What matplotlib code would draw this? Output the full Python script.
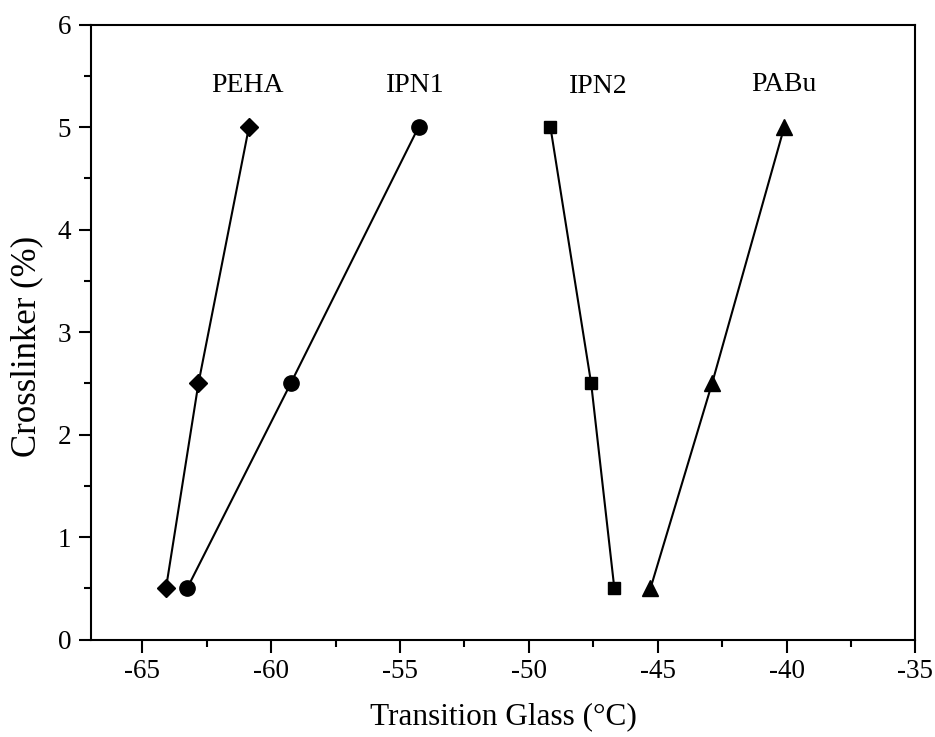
import numpy as np
import matplotlib
matplotlib.use("Agg")
import matplotlib.pyplot as plt
from matplotlib.ticker import MultipleLocator

plt.rcParams['font.family'] = ['Liberation Serif', 'DejaVu Serif']
plt.rcParams['axes.unicode_minus'] = False

# crosslinker content (%)
crosslinker = [0.5, 2.5, 5]

# glass transition temperatures (°C)
tg_peha = [-64.08, -62.82, -60.86]
tg_ipn1 = [-63.26, -59.24, -54.28]
tg_ipn2 = [-46.68, -47.58, -49.16]
tg_pabu = [-45.28, -42.89, -40.09]

series_names = ['PEHA', 'IPN1', 'IPN2', 'PABu']
label_x = [-60.9, -54.4, -47.3, -40.1]
label_y = [5.41, 5.41, 5.40, 5.42]

fig = plt.figure(figsize=(9.35, 7.37), dpi=100)
ax = fig.add_axes([0.097, 0.132, 0.882, 0.8345])

ax.plot(tg_peha, crosslinker, 'k-', marker='D', ms=9, lw=1.5)
ax.plot(tg_ipn1, crosslinker, 'k-', marker='o', ms=11, lw=1.5)
ax.plot(tg_ipn2, crosslinker, 'k-', marker='s', ms=8.5, lw=1.5)
ax.plot(tg_pabu, crosslinker, 'k-', marker='^', ms=12, lw=1.5)

for name, lx, ly in zip(series_names, label_x, label_y):
    ax.text(lx, ly, name, ha='center', va='center', fontsize=20)

ax.set_xlim(-67, -35)
ax.set_ylim(0, 6)
ax.xaxis.set_major_locator(MultipleLocator(5))
ax.xaxis.set_minor_locator(MultipleLocator(2.5))
ax.yaxis.set_major_locator(MultipleLocator(1))
ax.yaxis.set_minor_locator(MultipleLocator(0.5))
ax.tick_params(which='both', direction='out', width=1.5, labelsize=19.5,
               top=False, right=False, pad=5)
ax.tick_params(which='major', length=9)
ax.tick_params(which='minor', length=5)
for sp in ax.spines.values():
    sp.set_linewidth(1.5)

ax.set_xlabel('Transition Glass (°C)', fontsize=22.5, labelpad=13)
ax.set_ylabel('Crosslinker (%)', fontsize=25)
ax.yaxis.set_label_coords(-0.058, 0.477)

fig.savefig('out.png', dpi=100)
